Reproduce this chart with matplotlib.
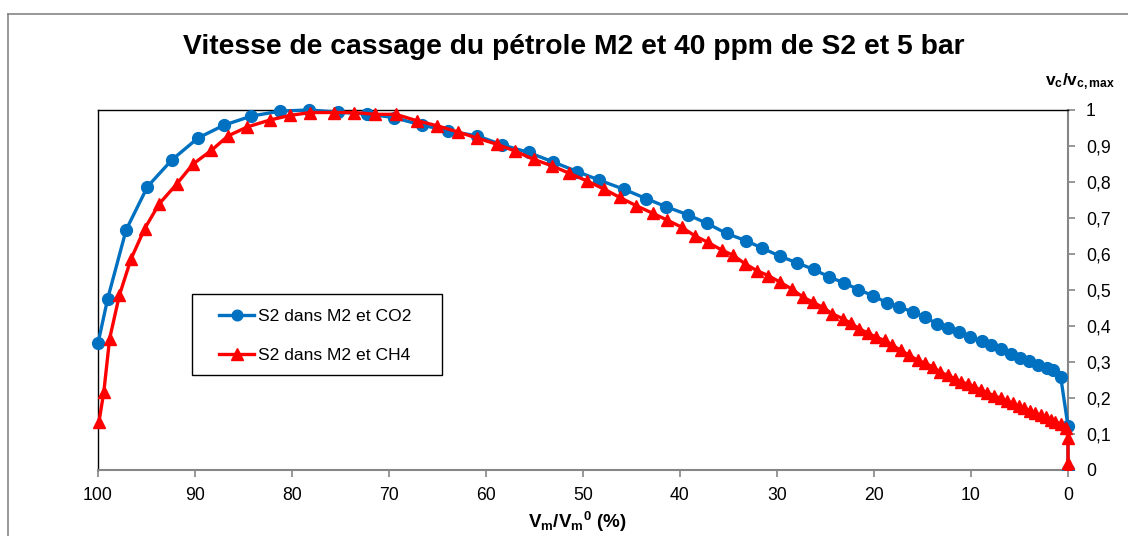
import matplotlib
matplotlib.use("Agg")
import matplotlib.pyplot as plt
from matplotlib.patches import Rectangle
from matplotlib.lines import Line2D

plt.rcParams['font.family'] = ['Liberation Sans', 'DejaVu Sans']
plt.rcParams['mathtext.fontset'] = 'custom'
plt.rcParams['mathtext.rm'] = 'Liberation Sans'
plt.rcParams['mathtext.bf'] = 'Liberation Sans:bold'
plt.rcParams['mathtext.it'] = 'Liberation Sans:italic'

title = "Vitesse de cassage du pétrole M2 et 40 ppm de S2 et 5 bar"
label_co2 = "S2 dans M2 et CO2"
label_ch4 = "S2 dans M2 et CH4"

x_co2 = [100, 99.0, 97.1, 94.9, 92.4, 89.7, 87.0, 84.2, 81.2, 78.2, 75.3, 72.3,
         69.5, 66.6, 63.9, 60.9, 58.3, 55.6, 53.1, 50.6, 48.3, 45.8, 43.5, 41.4,
         39.2, 37.2, 35.2, 33.2, 31.5, 29.7, 27.9, 26.2, 24.6, 23.1, 21.6, 20.1,
         18.7, 17.4, 16.0, 14.7, 13.5, 12.4, 11.2, 10.1, 8.9, 7.9, 6.9, 5.9, 5.0,
         4.0, 3.1, 2.2, 1.5, 0.75, 0.0, 0.0]
y_co2 = [0.352, 0.476, 0.667, 0.787, 0.861, 0.922, 0.958, 0.983, 0.997, 1.0, 0.994, 0.989,
         0.979, 0.958, 0.942, 0.928, 0.903, 0.882, 0.856, 0.829, 0.805, 0.780, 0.754, 0.731,
         0.709, 0.685, 0.657, 0.637, 0.616, 0.594, 0.575, 0.557, 0.536, 0.520, 0.501, 0.484,
         0.465, 0.453, 0.439, 0.424, 0.406, 0.394, 0.383, 0.369, 0.358, 0.346, 0.335, 0.323, 0.312,
         0.304, 0.293, 0.283, 0.277, 0.258, 0.122, 0.0]

x_ch4 = [99.9, 99.4, 98.8, 97.8, 96.6, 95.2, 93.7, 91.9, 90.2, 88.3, 86.6, 84.6, 82.3,
         80.2, 78.1, 75.7, 73.6, 71.4, 69.3, 67.1, 65.0, 62.9, 60.9, 58.9, 57.0, 55.1,
         53.2, 51.4, 49.6, 47.8, 46.2, 44.5, 42.8, 41.3, 39.8, 38.5, 37.1, 35.7, 34.5,
         33.3, 32.1, 30.9, 29.7, 28.5, 27.3, 26.3, 25.3, 24.3, 23.2, 22.4, 21.5, 20.6,
         19.8, 18.9, 18.1, 17.2, 16.4, 15.5, 14.7, 13.9, 13.2, 12.4, 11.7, 11.0, 10.3,
         9.7, 9.0, 8.3, 7.6, 6.9, 6.3, 5.7, 5.1, 4.5, 3.9, 3.4, 2.8, 2.3, 1.8, 1.3,
         0.75, 0.2, 0.0, 0.0, 0.0]
y_ch4 = [0.134, 0.217, 0.365, 0.485, 0.586, 0.670, 0.739, 0.794, 0.850, 0.888, 0.928, 0.953, 0.972,
         0.985, 0.993, 0.993, 0.993, 0.988, 0.988, 0.970, 0.956, 0.939, 0.922, 0.905, 0.886, 0.863,
         0.845, 0.824, 0.803, 0.780, 0.757, 0.734, 0.713, 0.694, 0.674, 0.651, 0.632, 0.611, 0.596,
         0.573, 0.554, 0.540, 0.522, 0.503, 0.480, 0.466, 0.452, 0.434, 0.420, 0.408, 0.392, 0.380,
         0.369, 0.360, 0.346, 0.332, 0.319, 0.305, 0.296, 0.286, 0.272, 0.263, 0.254, 0.245, 0.238,
         0.231, 0.222, 0.214, 0.206, 0.199, 0.191, 0.185, 0.177, 0.171, 0.164, 0.157, 0.152, 0.146, 0.140, 0.134,
         0.127, 0.116, 0.089, 0.02, 0.0]

x_ticks = [100, 90, 80, 70, 60, 50, 40, 30, 20, 10, 0]
y_ticks = [0, 0.1, 0.2, 0.3, 0.4, 0.5, 0.6, 0.7, 0.8, 0.9, 1]
y_ticklabels = ["0", "0,1", "0,2", "0,3", "0,4", "0,5", "0,6", "0,7", "0,8", "0,9", "1"]

W, H = 1128, 536
fig = plt.figure(figsize=(W / 100, H / 100), dpi=100)
ax = fig.add_axes([98 / W, 1 - 470 / H, (1068 - 98) / W, (470 - 110) / H])

blue = '#0070C0'
red = '#FF0000'
l1, = ax.plot(x_co2, y_co2, color=blue, lw=2.4, marker='o', ms=8.5, label=label_co2, zorder=3)
l2, = ax.plot(x_ch4, y_ch4, color=red, lw=2.4, marker='^', ms=9, label=label_ch4, zorder=4)
clip = Rectangle((-0.02, 0), 1.04, 1.05, transform=ax.transAxes)
for l in (l1, l2):
    l.set_clip_path(clip)

ax.set_xlim(100, 0)
ax.set_ylim(0, 1)
ax.set_xticks(x_ticks)
ax.set_xticklabels([str(t) for t in x_ticks], fontsize=12.7)
ax.set_yticks(y_ticks)
ax.set_yticklabels(y_ticklabels, fontsize=12.7)
ax.yaxis.tick_right()
gray = '#868686'
ax.tick_params(axis='y', which='both', right=True, left=False, direction='out', length=5,
               color=gray, width=1.2, pad=8)
ax.tick_params(axis='x', direction='out', length=5, color=gray, width=1.2, pad=7)
for s in ('top', 'left'):
    ax.spines[s].set_color('black')
    ax.spines[s].set_linewidth(1.0)
for s in ('bottom', 'right'):
    ax.spines[s].set_color(gray)
    ax.spines[s].set_linewidth(1.5)

fig.text(574 / W, 1 - 53.5 / H, title, fontsize=20.3, fontweight='bold', ha='center', va='baseline')
fig.text(1080 / W, 1 - 82 / H, r"$\mathbf{v_c/v_{c,max}}$", fontsize=12.5,
         ha='center', va='center')
fig.text(577 / W, 1 - 522 / H, r"$\mathbf{V_m/V_m{}^0}$ (%)", fontsize=13.5,
         fontweight='bold', ha='center', va='center')

leg = fig.legend(handles=[l1, l2], loc='center left',
                 bbox_to_anchor=(219 / W, 1 - 336 / H),
                 fontsize=12.6, frameon=False,
                 borderpad=0, labelspacing=1.35, handlelength=2.0, handletextpad=0.25,
                 markerscale=0.9, borderaxespad=0)
fig.add_artist(Rectangle((192 / W, 1 - 375 / H), (442 - 192) / W, (375 - 294) / H,
                         transform=fig.transFigure, fill=False, edgecolor='black', lw=1.0))

# outer chart border
fig.add_artist(Line2D([8 / W, 1], [1 - 14 / H, 1 - 14 / H], transform=fig.transFigure,
                      color=gray, lw=1.2))
fig.add_artist(Line2D([8 / W, 8 / W], [0, 1 - 14 / H], transform=fig.transFigure,
                      color=gray, lw=1.2))

fig.savefig('out.png', dpi=100)
